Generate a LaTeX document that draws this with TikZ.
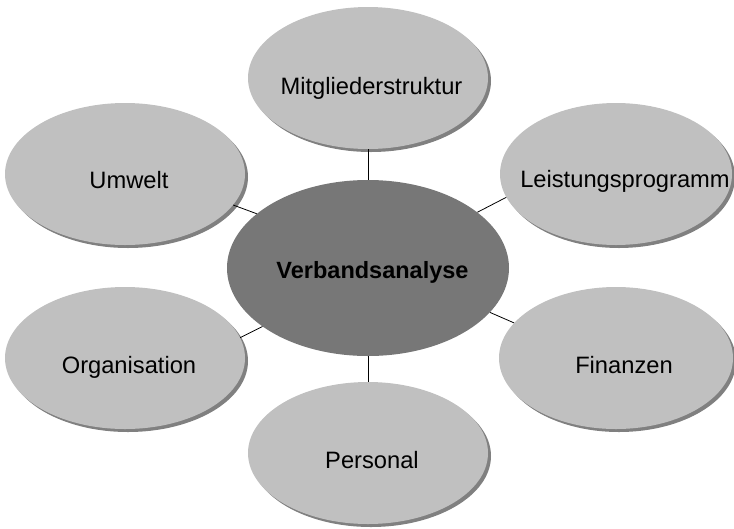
\documentclass[tikz,border=0pt]{standalone}
\usepackage{fontspec}
\setmainfont{Liberation Sans}
\usetikzlibrary{shapes.geometric,shadows}
\definecolor{outerfill}{HTML}{C0C0C0}
\definecolor{innerfill}{HTML}{777777}
\definecolor{shadowc}{HTML}{808080}
\tikzset{
  outerell/.style={ellipse, fill=outerfill, minimum width=240pt, minimum height=142pt, inner sep=0pt,
    drop shadow={shadow xshift=3pt, shadow yshift=-3pt, fill=shadowc, opacity=1}},
  innerell/.style={ellipse, fill=innerfill, minimum width=282pt, minimum height=176pt, inner sep=0pt},
  lbl/.style={anchor=base, inner sep=0pt, font=\fontsize{23.7}{28}\selectfont},
  link/.style={draw=black, line width=0.8pt}
}
\begin{document}
\begin{tikzpicture}[x=1pt,y=-1pt]
\useasboundingbox (0,0) rectangle (734,528);
\node[outerell] (m) at (368,78) {};
\node[outerell] (u) at (125,174) {};
\node[outerell, minimum width=232pt] (l) at (616,174) {};
\node[outerell] (o) at (125,358) {};
\node[outerell, minimum width=234pt] (f) at (616,358) {};
\node[outerell] (p) at (368,453) {};
\node[innerell] (c) at (368,268) {};
\draw[link] (c.90) -- (m.-90);
\draw[link] (c.154) -- (u.-16);
\draw[link] (c.27) -- (l.192);
\draw[link] (c.209) -- (o.10);
\draw[link] (c.-20) -- (f.161);
\draw[link] (c.-90) -- (p.90);
\node[lbl] (tm) at (371.5,94) {Mitgliederstruktur};
\node[lbl] (tu) at (129,188) {Umwelt};
\node[lbl] (tl) at (625,187) {Leistungsprogramm};
\node[lbl] (to) at (129,373) {Organisation};
\node[lbl] (tf) at (624,373) {Finanzen};
\node[lbl] (tp) at (372,468) {Personal};
\node[lbl, font=\fontsize{23.5}{28}\selectfont\bfseries] (tc) at (372.5,278) {Verbandsanalyse};
\end{tikzpicture}
\end{document}
